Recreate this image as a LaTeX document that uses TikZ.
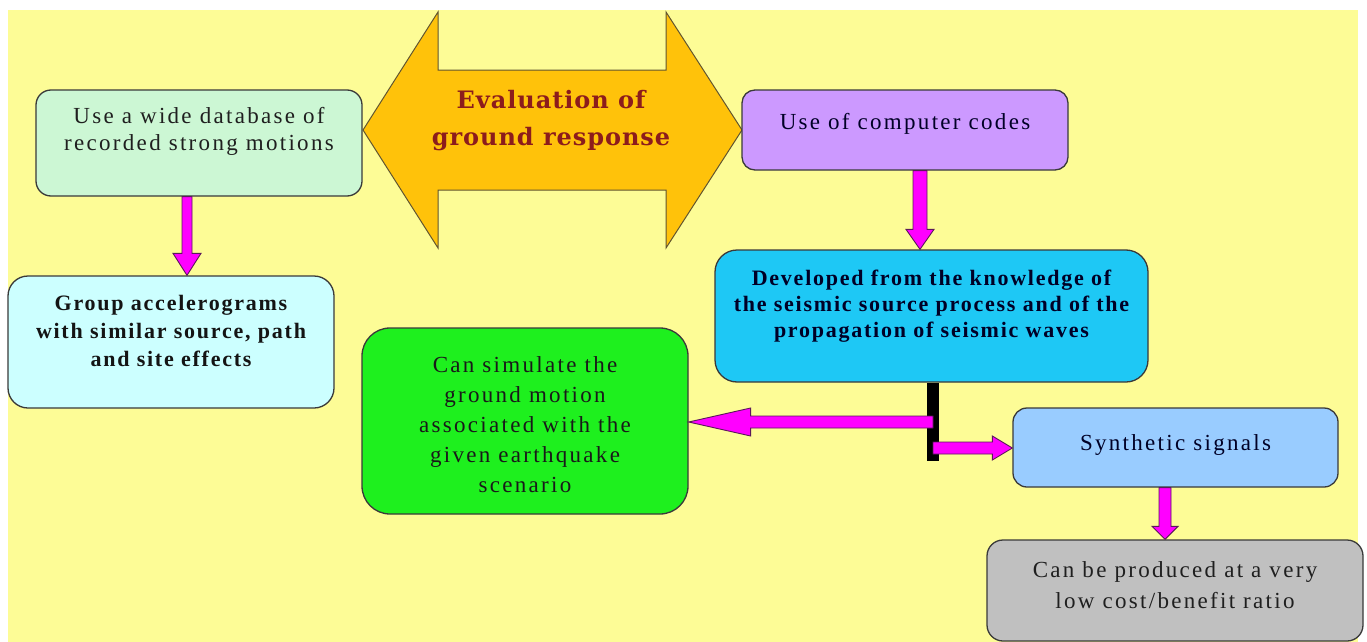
\documentclass[tikz,border=0pt]{standalone}
\usepackage{fontspec}
\setmainfont{Liberation Serif}[LetterSpace=10]
\newfontfamily\boldtext{Liberation Serif}[LetterSpace=8]
\newfontfamily\titlefont{DejaVu Serif}[LetterSpace=4]
\usetikzlibrary{calc}

\definecolor{paper}{HTML}{FDFC96}
\definecolor{edge}{HTML}{3A3A3A}
\definecolor{mint}{HTML}{CCF7D4}
\definecolor{paleblue}{HTML}{CCFFFF}
\definecolor{lilac}{HTML}{CC99FF}
\definecolor{sky}{HTML}{1EC8F5}
\definecolor{lime}{HTML}{1EF01E}
\definecolor{steel}{HTML}{99CCFF}
\definecolor{silver}{HTML}{C0C0C0}
\definecolor{gold}{HTML}{FFC20A}
\definecolor{pink}{HTML}{FF00FF}
\definecolor{pinkedge}{HTML}{5A1A5A}
\definecolor{maroon}{HTML}{8C1C1C}

% block arrow pointing down from the south side of #1 to the north side of #2
% #3 x position, #4 half shaft width, #5 half head width, #6 head length
\newcommand{\blockdown}[6]{%
  \draw[blockarrow] let \p1=(#1.south), \p2=(#2.north) in
    (#3-#4,\y1) -- (#3-#4,\y2+#6) -- (#3-#5,\y2+#6) -- (#3,\y2)
    -- (#3+#5,\y2+#6) -- (#3+#4,\y2+#6) -- (#3+#4,\y1) -- cycle;}
% block arrow pointing left from the centre of #1 to the east side of #2, at height #3
\newcommand{\blockleft}[6]{%
  \draw[blockarrow] let \p1=(#1.center), \p2=(#2.east) in
    (\x1,#3-#4) -- (\x2+#6,#3-#4) -- (\x2+#6,#3-#5) -- (\x2,#3)
    -- (\x2+#6,#3+#5) -- (\x2+#6,#3+#4) -- (\x1,#3+#4) -- cycle;}
% block arrow pointing right from the centre of #1 to the west side of #2, at height #3
\newcommand{\blockright}[6]{%
  \draw[blockarrow] let \p1=(#1.center), \p2=(#2.west) in
    (\x1,#3-#4) -- (\x2-#6,#3-#4) -- (\x2-#6,#3-#5) -- (\x2,#3)
    -- (\x2-#6,#3+#5) -- (\x2-#6,#3+#4) -- (\x1,#3+#4) -- cycle;}

\begin{document}
\begin{tikzpicture}[x=1pt,y=-1pt,
  box/.style={draw=edge, line width=1.3pt, align=center, inner sep=0pt},
  plain/.style={font=\fontsize{23}{#1}\selectfont},
  heavy/.style={font=\fontsize{22}{#1}\selectfont\boldtext\bfseries},
  blockarrow/.style={fill=pink, draw=pinkedge, line width=0.9pt, line join=miter},
  barstyle/.style={fill=black, inner sep=0pt, minimum width=12pt, minimum height=78pt},
  titletext/.style={font=\fontsize{24}{37}\selectfont\titlefont\bfseries,
    text=maroon, align=center, inner sep=0pt}]

\useasboundingbox (0,0) rectangle (1367,642);
\fill[white] (0,0) rectangle (1367,642);
\fill[paper] (8,10) rectangle (1358,642);

% central two-headed arrow
\draw[fill=gold, draw=edge!80!gold, line width=1pt, line join=miter]
  (363,130) -- (438,12) -- (438,70) -- (666,70) -- (666,12) -- (742,130)
  -- (666,248) -- (666,190) -- (438,190) -- (438,248) -- cycle;
\node[titletext] (title) at (551,121) {Evaluation of\\ground response};

% boxes
\node[box, plain=27, fill=mint, rounded corners=15pt, text=black!88,
  minimum width=326pt, minimum height=106pt, text height=30pt, text depth=16pt]
  (db) at (199,143) {Use a wide database of\\recorded strong motions};
\node[box, heavy=28, fill=paleblue, rounded corners=20pt, text=black!92,
  minimum width=326pt, minimum height=132pt, text height=60pt, text depth=12pt]
  (grp) at (171,342) {Group accelerograms\\with similar source, path\\and site effects};
\node[box, plain=27, fill=lilac, rounded corners=13pt, text=black!75!blue!60!black,
  minimum width=326pt, minimum height=80pt, text height=5pt, text depth=7pt]
  (codes) at (905,130) {Use of computer codes};
\node[box, heavy=26, fill=sky, rounded corners=22pt, text=black!85!blue,
  minimum width=433pt, minimum height=132pt, text height=50pt, text depth=8pt]
  (dev) at (931.5,316) {Developed from the knowledge of\\the seismic source process and of the\\propagation of seismic waves};
\node[box, plain=30, fill=lime, rounded corners=28pt, text=black!90,
  minimum width=326pt, minimum height=186pt, text height=150pt, text depth=8pt]
  (sim) at (525,421) {Can simulate the\\ground motion\\associated with the\\given earthquake\\scenario};
\node[box, plain=27, fill=steel, rounded corners=14pt, text=black!85!blue,
  minimum width=325pt, minimum height=79pt, text height=5pt, text depth=0pt]
  (syn) at (1175.5,447.5) {Synthetic signals};
\node[box, plain=31, fill=silver, rounded corners=16pt, text=black!88,
  minimum width=376pt, minimum height=101pt, text height=40pt, text depth=5pt]
  (cheap) at (1175,590.5) {Can be produced at a very\\low cost/benefit ratio};

% branching bar under the seismic-source box
\node[barstyle, anchor=north] (bar) at ([xshift=1.5pt]dev.south) {};

% connectors
\blockdown{db}{grp}{187}{5}{14}{22}
\blockdown{codes}{dev}{920}{7}{14}{20}
\blockleft{bar}{sim}{422}{6}{14}{62}
\blockright{bar}{syn}{448}{6}{12}{20}
\blockdown{syn}{cheap}{1165}{6}{13}{13}

\end{tikzpicture}
\end{document}
